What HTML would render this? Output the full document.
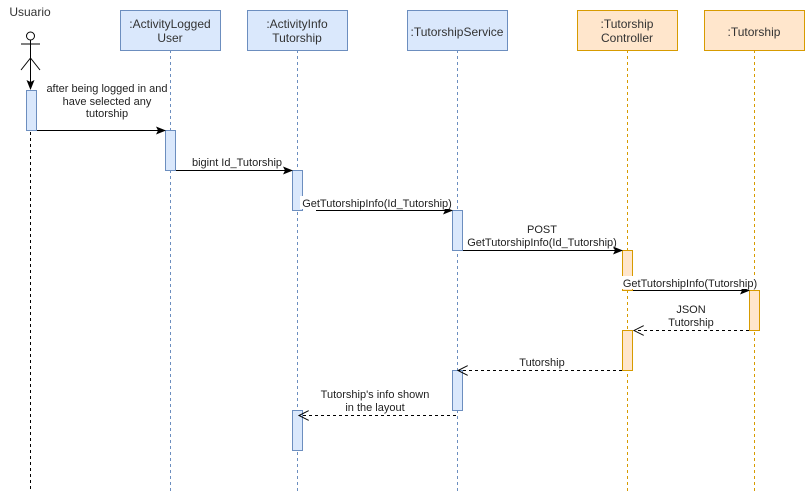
<!DOCTYPE html>
<html><head><meta charset="utf-8"><style>
html,body{margin:0;padding:0;background:#fff;}
svg{display:block;font-family:"Liberation Sans",Arial,sans-serif;}
</style></head><body>
<svg width="805" height="491" viewBox="0 0 805 491" xmlns="http://www.w3.org/2000/svg">
<defs>
<marker id="fa" markerWidth="10" markerHeight="8" refX="9" refY="4" orient="auto" markerUnits="userSpaceOnUse"><path d="M0,0 L10,4 L0,8 L2,4 Z" fill="#000"/></marker>
<marker id="oa" markerWidth="12" markerHeight="10" refX="10" refY="5" orient="auto" markerUnits="userSpaceOnUse"><path d="M0,0 L10,5 L0,10" fill="none" stroke="#000"/></marker>
</defs>
<g stroke-dasharray="3,3" stroke-width="1">
<line x1="30.5" y1="60" x2="30.5" y2="491" stroke="#000"/>
<line x1="170.5" y1="50" x2="170.5" y2="491" stroke="#6c8ebf"/>
<line x1="297.5" y1="50" x2="297.5" y2="491" stroke="#6c8ebf"/>
<line x1="457.5" y1="50" x2="457.5" y2="491" stroke="#6c8ebf"/>
<line x1="627.5" y1="50" x2="627.5" y2="491" stroke="#d79b00"/>
<line x1="754.5" y1="50" x2="754.5" y2="491" stroke="#d79b00"/>
</g>
<g font-size="12" fill="#333" text-anchor="middle">
<rect x="120.5" y="10.5" width="100" height="40" fill="#dae8fc" stroke="#6c8ebf"/>
<text x="170" y="28">:ActivityLogged</text><text x="170" y="42">User</text>
<rect x="247.5" y="10.5" width="100" height="40" fill="#dae8fc" stroke="#6c8ebf"/>
<text x="297" y="28">:ActivityInfo</text><text x="297" y="42">Tutorship</text>
<rect x="407.5" y="10.5" width="100" height="40" fill="#dae8fc" stroke="#6c8ebf"/>
<text x="457" y="36">:TutorshipService</text>
<rect x="577.5" y="10.5" width="100" height="40" fill="#ffe6cc" stroke="#d79b00"/>
<text x="627" y="28">:Tutorship</text><text x="627" y="42">Controller</text>
<rect x="704.5" y="10.5" width="100" height="40" fill="#ffe6cc" stroke="#d79b00"/>
<text x="754" y="36">:Tutorship</text>
<text x="30" y="16">Usuario</text>
</g>
<g stroke="#000" fill="none" stroke-width="1">
<circle cx="30.5" cy="36" r="4" fill="#fff"/>
<line x1="30.5" y1="40" x2="30.5" y2="60"/>
<line x1="21" y1="44" x2="40" y2="44"/>
<line x1="30.5" y1="58" x2="21" y2="70"/>
<line x1="30.5" y1="58" x2="40" y2="70"/>
<line x1="30.5" y1="60" x2="30.5" y2="89" marker-end="url(#fa)"/>
</g>
<g stroke-width="1">
<rect x="26.5" y="90.5" width="10" height="40" fill="#dae8fc" stroke="#6c8ebf"/>
<rect x="165.5" y="130.5" width="10" height="40" fill="#dae8fc" stroke="#6c8ebf"/>
<rect x="292.5" y="170.5" width="10" height="40" fill="#dae8fc" stroke="#6c8ebf"/>
<rect x="452.5" y="210.5" width="10" height="40" fill="#dae8fc" stroke="#6c8ebf"/>
<rect x="622.5" y="250.5" width="10" height="40" fill="#ffe6cc" stroke="#d79b00"/>
<rect x="749.5" y="290.5" width="10" height="40" fill="#ffe6cc" stroke="#d79b00"/>
<rect x="622.5" y="330.5" width="10" height="40" fill="#ffe6cc" stroke="#d79b00"/>
<rect x="452.5" y="370.5" width="10" height="40" fill="#dae8fc" stroke="#6c8ebf"/>
<rect x="292.5" y="410.5" width="10" height="40" fill="#dae8fc" stroke="#6c8ebf"/>
</g>
<g stroke="#000" stroke-width="1" fill="none">
<line x1="37" y1="130.5" x2="165" y2="130.5" marker-end="url(#fa)"/>
<line x1="176" y1="170.5" x2="292" y2="170.5" marker-end="url(#fa)"/>
<line x1="316" y1="210.5" x2="452" y2="210.5" marker-end="url(#fa)"/>
<line x1="463" y1="250.5" x2="622" y2="250.5" marker-end="url(#fa)"/>
<line x1="633" y1="290.5" x2="749" y2="290.5" marker-end="url(#fa)"/>
<line x1="749" y1="330.5" x2="634" y2="330.5" stroke-dasharray="3,3" marker-end="url(#oa)"/>
<line x1="622" y1="370.5" x2="458" y2="370.5" stroke-dasharray="3,3" marker-end="url(#oa)"/>
<line x1="456" y1="415.5" x2="299" y2="415.5" stroke-dasharray="3,3" marker-end="url(#oa)"/>
</g>
<g font-size="11" fill="#222" text-anchor="middle">
<rect x="300" y="196" width="152" height="13" fill="#fff"/>
<rect x="620" y="276" width="137" height="13" fill="#fff"/>
<text x="107" y="92">after being logged in and</text>
<text x="107" y="105">have selected any</text>
<text x="107" y="117">tutorship</text>
<text x="237" y="166">bigint Id_Tutorship</text>
<text x="377" y="207">GetTutorshipInfo(Id_Tutorship)</text>
<text x="542" y="233">POST</text>
<text x="542" y="246">GetTutorshipInfo(Id_Tutorship)</text>
<text x="690" y="287">GetTutorshipInfo(Tutorship)</text>
<text x="691" y="313">JSON</text>
<text x="691" y="326">Tutorship</text>
<text x="542" y="366">Tutorship</text>
<text x="375" y="398">Tutorship's info shown</text>
<text x="375" y="411">in the layout</text>
</g>
</svg>
</body></html>
